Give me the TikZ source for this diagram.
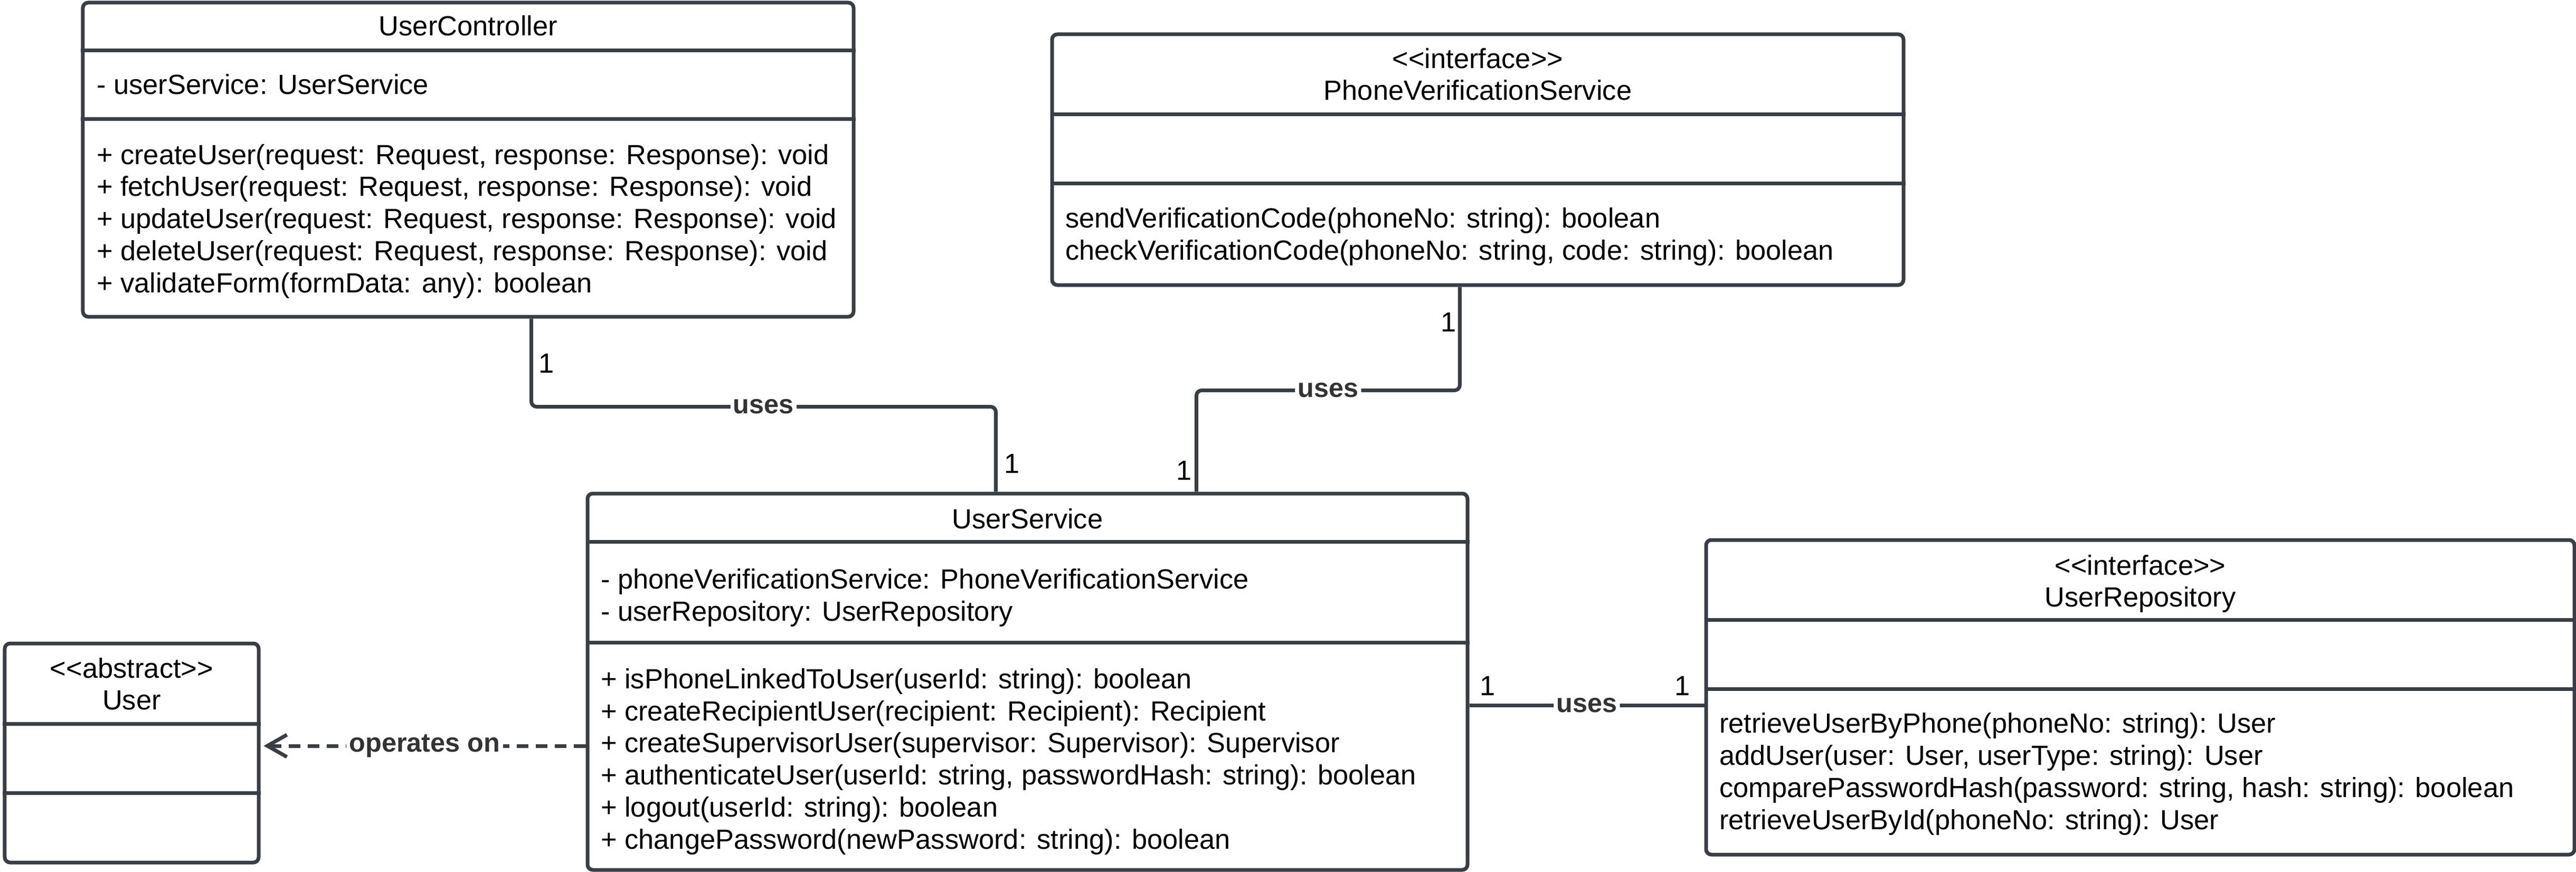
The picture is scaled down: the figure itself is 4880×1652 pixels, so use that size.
\documentclass[tikz,border=0pt]{standalone}
\usepackage{fontspec}
\setmainfont{Liberation Sans}[Ligatures=TeXOff]
\usetikzlibrary{arrows.meta,calc}
\definecolor{lc}{RGB}{57,62,70}
\definecolor{lbl}{RGB}{51,51,51}
\begin{document}
\begin{tikzpicture}[x=0.2pt,y=-0.2pt,
  box/.style={draw=lc,line width=1.4pt,rounded corners=2pt,fill=white,inner sep=0pt},
  div/.style={draw=lc,line width=1.4pt},
  conn/.style={draw=lc,line width=1.4pt,rounded corners=2pt},
  txt/.style={font=\fontsize{10.5pt}{12.15pt}\selectfont,inner sep=0pt,align=left,anchor=base west},
  ttl/.style={font=\fontsize{10.5pt}{12pt}\selectfont,inner sep=0pt,align=center,anchor=base},
  lab/.style={font=\fontsize{10.1pt}{12pt}\selectfont\bfseries,text=lbl,fill=white,inner sep=1pt},
  mult/.style={font=\fontsize{10.5pt}{12pt}\selectfont,inner sep=0pt}]
\useasboundingbox (0,0) rectangle (4880,1652);
% (multi-line text nodes are placed by the baseline of their last line)

% UserController
\node[box,minimum width=292pt,minimum height=119pt] (uc) at (887,302.5) {};
\draw[div] (uc.west |- 0,96) -- (uc.east |- 0,96);
\draw[div] (uc.west |- 0,226) -- (uc.east |- 0,226);
\node[ttl] (uct) at (887,68) {UserController};
\node[txt] (uca) at (182,179) {- userService: UserService};
\node[txt] (ucm) at (182,554) {+ createUser(request: Request, response: Response): void\\
+ fetchUser(request: Request, response: Response): void\\
+ updateUser(request: Request, response: Response): void\\
+ deleteUser(request: Request, response: Response): void\\
+ validateForm(formData: any): boolean};

% PhoneVerificationService
\node[box,minimum width=322.6pt,minimum height=95pt] (pvs) at (2799.5,302.5) {};
\draw[div] (pvs.west |- 0,217) -- (pvs.east |- 0,217);
\draw[div] (pvs.west |- 0,348) -- (pvs.east |- 0,348);
\node[ttl] (pvst) at (2799.5,190) {<<interface>>\\PhoneVerificationService};
\node[txt] (pvsm) at (2017,492) {sendVerificationCode(phoneNo: string): boolean\\
checkVerificationCode(phoneNo: string, code: string): boolean};

% UserService
\node[box,minimum width=333.4pt,minimum height=142.6pt] (us) at (1946.5,1291.5) {};
\draw[div] (us.west |- 0,1026) -- (us.east |- 0,1026);
\draw[div] (us.west |- 0,1217) -- (us.east |- 0,1217);
\node[ttl] (ust) at (1946.5,1001) {UserService};
\node[txt] (usa) at (1137,1176) {- phoneVerificationService: PhoneVerificationService\\
- userRepository: UserRepository};
\node[txt] (usm) at (1137,1608) {+ isPhoneLinkedToUser(userId: string): boolean\\
+ createRecipientUser(recipient: Recipient): Recipient\\
+ createSupervisorUser(supervisor: Supervisor): Supervisor\\
+ authenticateUser(userId: string, passwordHash: string): boolean\\
+ logout(userId: string): boolean\\
+ changePassword(newPassword: string): boolean};

% User
\node[box,minimum width=96.2pt,minimum height=83pt] (user) at (249.5,1426.5) {};
\draw[div] (user.west |- 0,1371) -- (user.east |- 0,1371);
\draw[div] (user.west |- 0,1502) -- (user.east |- 0,1502);
\node[ttl] (usert) at (249.5,1344) {<<abstract>>\\User};

% UserRepository
\node[box,minimum width=329pt,minimum height=119.2pt] (ur) at (4054.5,1321) {};
\draw[div] (ur.west |- 0,1174) -- (ur.east |- 0,1174);
\draw[div] (ur.west |- 0,1305) -- (ur.east |- 0,1305);
\node[ttl] (urt) at (4054.5,1149) {<<interface>>\\UserRepository};
\node[txt] (urm) at (3256,1571) {retrieveUserByPhone(phoneNo: string): User\\
addUser(user: User, userType: string): User\\
comparePasswordHash(password: string, hash: string): boolean\\
retrieveUserById(phoneNo: string): User};

% connectors
\draw[conn] ([xshift=170.6pt]uc.south west) -- ++(0,167) -| node[lab,pos=0.25] {uses} ([xshift=155.4pt]us.north west);
\draw[conn] ([xshift=155.2pt]pvs.south west) -- ++(0,196) -| node[lab,pos=0.25] {uses} ([xshift=231.4pt]us.north west);
\coordinate (a) at ([yshift=-8.9pt]us.east);
\draw[conn] (a) -- node[lab] {uses} (ur.west |- a);
\coordinate (b) at ([yshift=-24.3pt]us.west);
\coordinate (bt) at ([xshift=1.2pt]user.east |- b);
\draw[draw=lc,line width=1.4pt,dash pattern=on 4.4pt off 2.8pt,-{Straight Barb[length=7.4pt,width=8.4pt]}] (b) -- node[lab] {operates on} (bt);

% multiplicities
\node[mult] (m1) at (1035,688) {1};
\node[mult] (m2) at (1917,878) {1};
\node[mult] (m3) at (2744,610) {1};
\node[mult] (m4) at (2243,891) {1};
\node[mult] (m5) at (2818,1299) {1};
\node[mult] (m6) at (3187,1299) {1};
\end{tikzpicture}
\end{document}
